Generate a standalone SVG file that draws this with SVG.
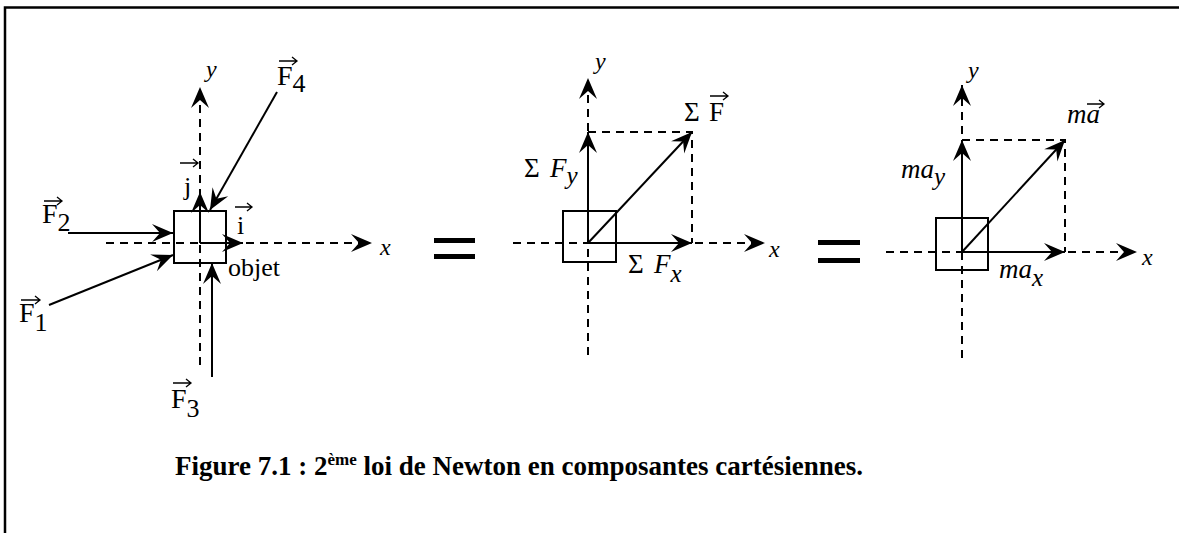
<svg xmlns="http://www.w3.org/2000/svg" width="1179" height="533" viewBox="0 0 1179 533">
<defs>
<marker id="ah" viewBox="-22 -10 24 20" refX="0" refY="0" markerUnits="userSpaceOnUse" markerWidth="24" markerHeight="20" orient="auto">
<path d="M0,0 L-21,-9 L-13,0 L-21,9 Z" fill="#000"/>
</marker>
<style>
.ax{stroke:#000;stroke-width:2;stroke-dasharray:8 6;fill:none}
.dsh{stroke:#000;stroke-width:2;stroke-dasharray:8 6;fill:none}
.ar{stroke:#000;stroke-width:2;fill:none}
.box{stroke:#000;stroke-width:2;fill:none}
.vec{stroke:#000;stroke-width:1.3;fill:none}
.t{font-family:"Liberation Serif","Times New Roman",serif;fill:#000}
.it{font-style:italic}
.eq{fill:#000}
</style>
</defs>
<rect width="1179" height="533" fill="#fff"/>
<path d="M5,533 L5,7.5 L1179,7.5" stroke="#000" stroke-width="2.5" fill="none"/>

<g id="connectors">
<!-- left panel -->
<line class="ax" x1="200" y1="365" x2="200" y2="87" marker-end="url(#ah)"/>
<line class="ax" x1="106" y1="243" x2="372" y2="243" marker-end="url(#ah)"/>
<line class="ar" x1="200" y1="243" x2="243" y2="243" marker-end="url(#ah)"/>
<line class="ar" x1="200" y1="243" x2="200" y2="192" marker-end="url(#ah)"/>
<line class="ar" x1="277" y1="92" x2="210" y2="210" marker-end="url(#ah)"/>
<line class="ar" x1="68" y1="233" x2="173" y2="233" marker-end="url(#ah)"/>
<line class="ar" x1="49" y1="305" x2="173" y2="255" marker-end="url(#ah)"/>
<line class="ar" x1="212" y1="377" x2="212" y2="263" marker-end="url(#ah)"/>
<!-- middle panel -->
<line class="ax" x1="588" y1="355" x2="588" y2="78" marker-end="url(#ah)"/>
<line class="ax" x1="513" y1="243" x2="765" y2="243" marker-end="url(#ah)"/>
<path class="dsh" d="M588,132 L692,132 L692,243"/>
<line class="ar" x1="588" y1="243" x2="588" y2="132" marker-end="url(#ah)"/>
<line class="ar" x1="588" y1="243" x2="692" y2="243" marker-end="url(#ah)"/>
<line class="ar" x1="588" y1="243" x2="692" y2="132" marker-end="url(#ah)"/>
<!-- right panel -->
<line class="ax" x1="962" y1="358" x2="962" y2="85" marker-end="url(#ah)"/>
<line class="ax" x1="886" y1="252" x2="1137" y2="252" marker-end="url(#ah)"/>
<path class="dsh" d="M962,140 L1065,140 L1065,252"/>
<line class="ar" x1="962" y1="252" x2="962" y2="140" marker-end="url(#ah)"/>
<line class="ar" x1="962" y1="252" x2="1065" y2="252" marker-end="url(#ah)"/>
<line class="ar" x1="962" y1="252" x2="1065" y2="140" marker-end="url(#ah)"/>
</g>

<g id="objet-left">
<rect class="box" x="174" y="211" width="52" height="52"/>
<text class="t" x="228" y="276" font-size="26">objet</text>
</g>
<g id="objet-middle">
<rect class="box" x="563" y="211" width="53" height="51"/>
</g>
<g id="objet-right">
<rect class="box" x="936" y="218" width="52" height="52"/>
</g>

<g id="labels-left">
<text class="t it" x="206" y="77" font-size="24">y</text>
<text class="t it" x="380" y="255" font-size="24">x</text>
<text class="t" x="184" y="195" font-size="26">j</text>
<path class="vec" d="M180,163 L198,163 M193,159 L198,163 L193,167"/>
<text class="t" x="237" y="234" font-size="26">i</text>
<path class="vec" d="M235,207 L252,207 M247,203 L252,207 L247,211"/>
<text class="t" x="277" y="85" font-size="28">F<tspan font-size="26" dy="7">4</tspan></text>
<path class="vec" d="M279,61 L297,61 M292,57 L297,61 L292,65"/>
<text class="t" x="42" y="223" font-size="28">F<tspan font-size="26" dy="8">2</tspan></text>
<path class="vec" d="M44,201 L62,201 M57,197 L62,201 L57,205"/>
<text class="t" x="19" y="322" font-size="28">F<tspan font-size="26" dy="9">1</tspan></text>
<path class="vec" d="M21,300 L40,300 M35,296 L40,300 L35,304"/>
<text class="t" x="171" y="408" font-size="28">F<tspan font-size="26" dy="9">3</tspan></text>
<path class="vec" d="M173,383 L191,383 M186,379 L191,383 L186,387"/>
</g>

<g id="equals-1">
<rect class="eq" x="434" y="238" width="41" height="5"/>
<rect class="eq" x="434" y="254" width="41" height="5"/>
</g>

<g id="labels-middle">
<text class="t it" x="595" y="69" font-size="24">y</text>
<text class="t it" x="769" y="257" font-size="24">x</text>
<text class="t" x="684" y="121" font-size="27">Σ<tspan x="709">F</tspan></text>
<path class="vec" d="M710,96 L728,96 M723,92 L728,96 L723,100"/>
<text class="t" x="524" y="177" font-size="27">Σ<tspan class="it" x="550">F</tspan><tspan class="it" font-size="25" dy="7">y</tspan></text>
<text class="t" x="628" y="273" font-size="27">Σ<tspan class="it" x="654">F</tspan><tspan class="it" font-size="25" dy="9">x</tspan></text>
</g>

<g id="equals-2">
<rect class="eq" x="818" y="240" width="42" height="5"/>
<rect class="eq" x="818" y="258" width="42" height="5"/>
</g>

<g id="labels-right">
<text class="t it" x="968" y="78" font-size="24">y</text>
<text class="t it" x="1142" y="265" font-size="24">x</text>
<text class="t it" x="1067" y="123" font-size="27">ma</text>
<path class="vec" d="M1087,104 L1104,104 M1099,100 L1104,104 L1099,108"/>
<text class="t it" x="901" y="178" font-size="27">ma<tspan font-size="25" dy="7">y</tspan></text>
<text class="t it" x="999" y="278" font-size="27">ma<tspan font-size="25" dy="8">x</tspan></text>
</g>

<g id="caption">
<text class="t" x="175" y="475" font-size="27" font-weight="bold">Figure 7.1 : 2<tspan font-size="17" dy="-10">ème</tspan><tspan dy="10"> loi de Newton en composantes cartésiennes.</tspan></text>
</g>
</svg>
